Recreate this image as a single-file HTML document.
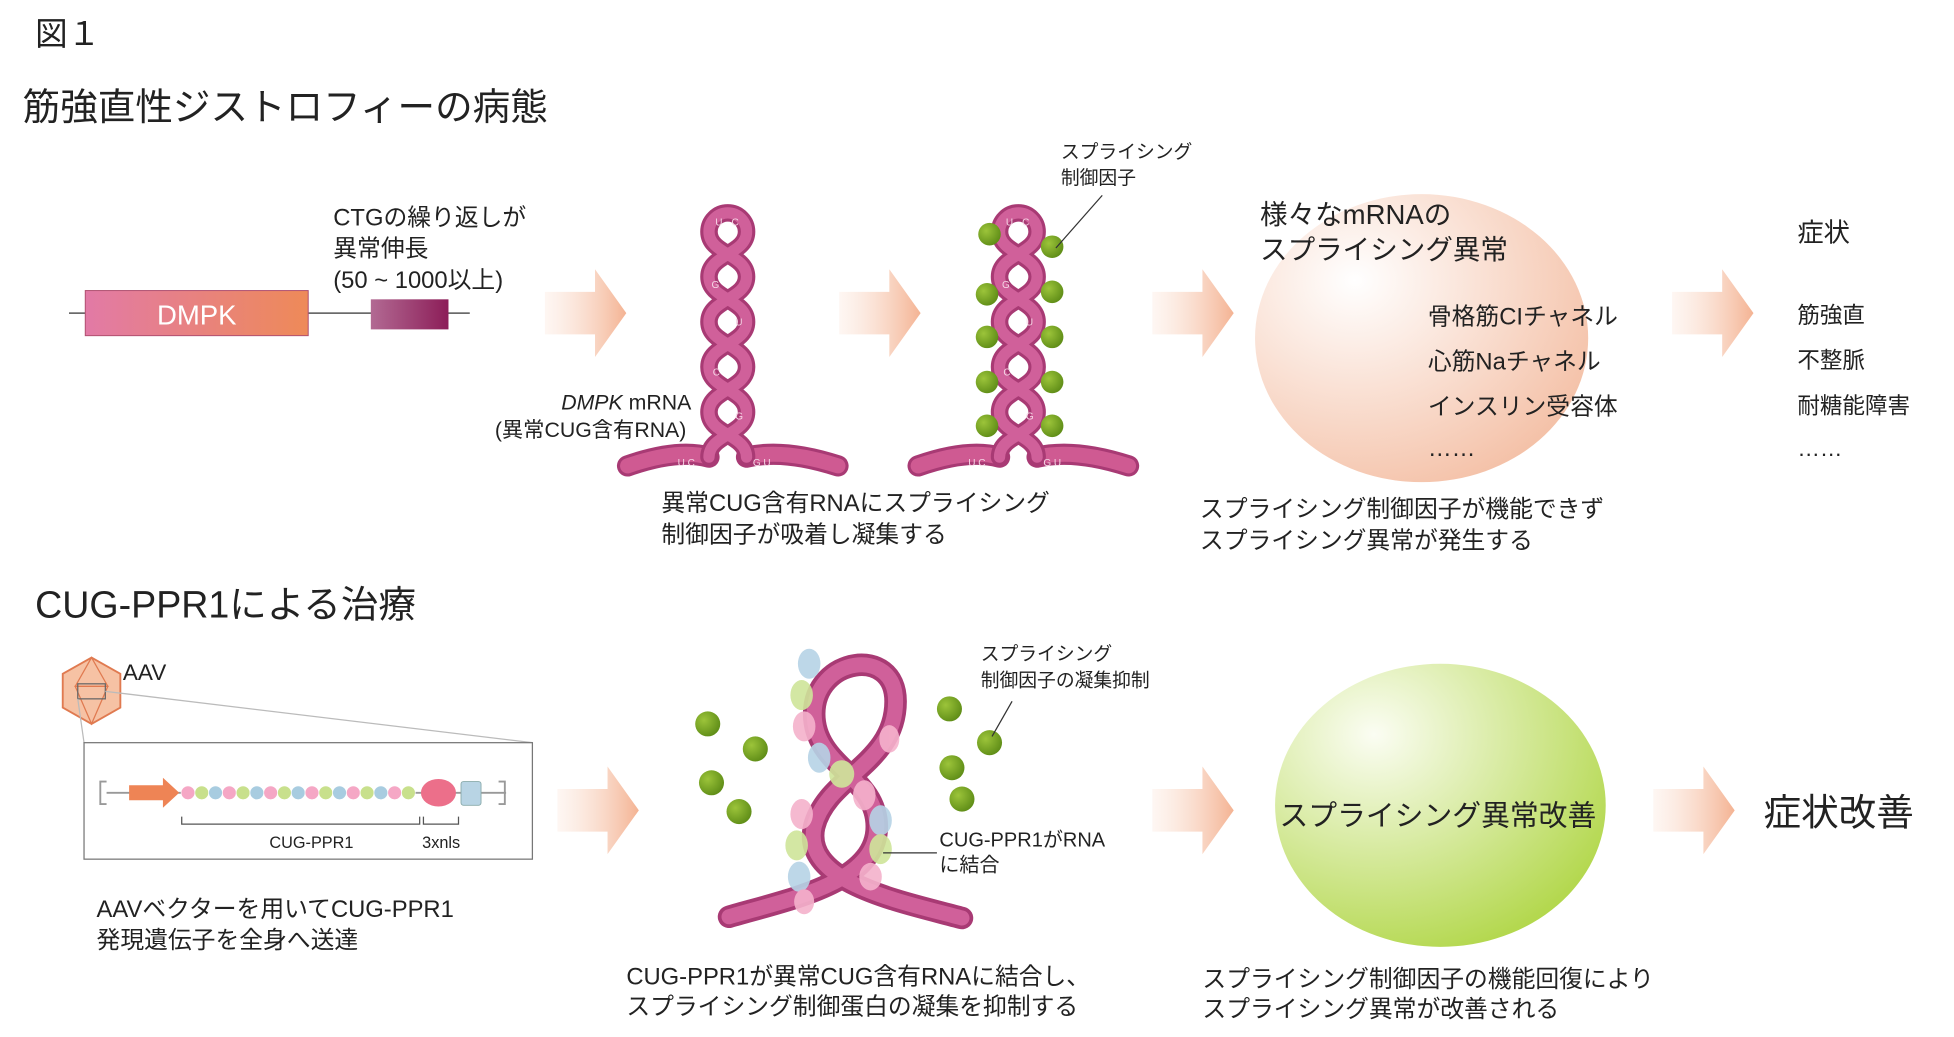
<!DOCTYPE html>
<html><head><meta charset="utf-8"><style>
html,body{margin:0;padding:0;background:#fff;width:1954px;height:1037px;overflow:hidden}
svg{display:block}
text{font-family:"Liberation Sans","Noto Sans CJK JP",sans-serif;fill:#222}
</style></head><body>
<svg width="1954" height="1037" viewBox="0 0 1560 828" xmlns="http://www.w3.org/2000/svg">
<defs>
<linearGradient id="ar" x1="0" x2="1"><stop offset="0" stop-color="#fbe3d6" stop-opacity="0.3"/><stop offset="1" stop-color="#f4b393"/></linearGradient>
<linearGradient id="dm" x1="0" x2="1"><stop offset="0" stop-color="#e27aa6"/><stop offset="1" stop-color="#ee8a58"/></linearGradient>
<linearGradient id="dm2" x1="0" x2="1"><stop offset="0" stop-color="#b26a93"/><stop offset="1" stop-color="#8c1d58"/></linearGradient>
<radialGradient id="pe" cx="0.3" cy="0.3" r="0.8"><stop offset="0" stop-color="#fff"/><stop offset="1" stop-color="#f4c0a6"/></radialGradient>
<radialGradient id="gr" cx="0.3" cy="0.25" r="0.85"><stop offset="0" stop-color="#fbfdf3"/><stop offset="1" stop-color="#b0d646"/></radialGradient>
<radialGradient id="gd" cx="0.35" cy="0.35" r="0.7"><stop offset="0" stop-color="#9cc43a"/><stop offset="1" stop-color="#5f8d17"/></radialGradient>
<g id="arrow"><polygon points="0,-17 40,-17 40,-35 65,0 40,35 40,17 0,17" fill="url(#ar)"/></g>
<g id="hp" fill="none" stroke-linecap="round">
<path d="M-80 372 Q-40 358 -15 365 M15 365 Q45 358 88 372" stroke="#a83a74" stroke-width="17"/>
<path d="M-80 372 Q-40 358 -15 365 M15 365 Q45 358 88 372" stroke="#cf5a92" stroke-width="12"/>
<path d="M-15 365 C-15 347 15 347 15 329 S-15 311 -15 293 S15 275 15 257 S-15 239 -15 221 S15 203 15 185 A15 15 0 0 0 -15 185 C-15 203 15 203 15 221 S-15 239 -15 257 S15 275 15 293 S-15 311 -15 329 S15 347 15 365" stroke="#a83a74" stroke-width="14"/>
<path d="M-15 365 C-15 347 15 347 15 329 S-15 311 -15 293 S15 275 15 257 S-15 239 -15 221 S15 203 15 185 A15 15 0 0 0 -15 185 C-15 203 15 203 15 221 S-15 239 -15 257 S15 275 15 293 S-15 311 -15 329 S15 347 15 365" stroke="#d0609a" stroke-width="9"/>
<g font-size="8" fill="#f6d6e6" stroke="none"><text x="-10" y="180" style="fill:#f6d6e6">U</text><text x="3" y="180" style="fill:#f6d6e6">C</text><text x="-13" y="230" style="fill:#f6d6e6">G</text><text x="6" y="260" style="fill:#f6d6e6">U</text><text x="-12" y="300" style="fill:#f6d6e6">C</text><text x="6" y="335" style="fill:#f6d6e6">G</text><text x="-40" y="372" style="fill:#f6d6e6">U C</text><text x="20" y="372" style="fill:#f6d6e6">G U</text></g>
</g>
</defs>

<text x="28" y="36" font-size="26">図１</text>
<text x="18" y="96" font-size="30">筋強直性ジストロフィーの病態</text>

<line x1="55" y1="250" x2="375" y2="250" stroke="#555" stroke-width="1.2"/>
<rect x="68" y="232" width="178" height="36" fill="url(#dm)" stroke="#b05070" stroke-width="0.8"/>
<text x="157" y="259" font-size="22" text-anchor="middle" style="fill:#fff">DMPK</text>
<rect x="296" y="239" width="62" height="24" fill="url(#dm2)"/>
<text font-size="19"><tspan x="266" y="180">CTGの繰り返しが</tspan><tspan x="266" y="205">異常伸長</tspan><tspan x="266" y="230">(50 ~ 1000以上)</tspan></text>

<use href="#arrow" x="435" y="250"/>
<use href="#arrow" x="670" y="250"/>
<use href="#arrow" x="920" y="250"/>
<use href="#arrow" x="1335" y="250"/>

<use href="#hp" x="581" y="0"/>
<use href="#hp" x="813" y="0"/>
<g fill="url(#gd)">
<circle cx="790" cy="187" r="9"/><circle cx="840" cy="197" r="9"/>
<circle cx="788" cy="235" r="9"/><circle cx="840" cy="233" r="9"/>
<circle cx="788" cy="269" r="9"/><circle cx="840" cy="269" r="9"/>
<circle cx="788" cy="305" r="9"/><circle cx="840" cy="305" r="9"/>
<circle cx="788" cy="340" r="9"/><circle cx="840" cy="340" r="9"/>
</g>
<text font-size="15"><tspan x="847" y="126">スプライシング</tspan><tspan x="847" y="147">制御因子</tspan></text>
<line x1="880" y1="156" x2="843" y2="198" stroke="#333" stroke-width="1"/>
<text font-size="17" x="448" y="327"><tspan font-style="italic">DMPK</tspan> mRNA</text>
<text font-size="17" x="395" y="349">(異常CUG含有RNA)</text>
<text font-size="19"><tspan x="528" y="408">異常CUG含有RNAにスプライシング</tspan><tspan x="528" y="433">制御因子が吸着し凝集する</tspan></text>

<ellipse cx="1135" cy="270" rx="133" ry="115" fill="url(#pe)"/>
<text font-size="22"><tspan x="1006" y="179">様々なmRNAの</tspan><tspan x="1006" y="207">スプライシング異常</tspan></text>
<text font-size="19"><tspan x="1140" y="259">骨格筋CIチャネル</tspan><tspan x="1140" y="295">心筋Naチャネル</tspan><tspan x="1140" y="331">インスリン受容体</tspan><tspan x="1140" y="364">……</tspan></text>
<text font-size="19"><tspan x="958" y="413">スプライシング制御因子が機能できず</tspan><tspan x="958" y="438">スプライシング異常が発生する</tspan></text>
<text font-size="21" x="1435" y="193">症状</text>
<text font-size="18"><tspan x="1435" y="258">筋強直</tspan><tspan x="1435" y="294">不整脈</tspan><tspan x="1435" y="330">耐糖能障害</tspan><tspan x="1435" y="364">……</tspan></text>

<text x="28" y="493" font-size="30">CUG-PPR1による治療</text>

<polygon points="73,525 96,538 96,565 73,578 50,565 50,538" fill="#f6c2a4" stroke="#e07a50" stroke-width="1.5"/>
<polygon points="73,525 86,548 60,548" fill="none" stroke="#e07a50"/>
<polygon points="60,548 86,548 73,578" fill="none" stroke="#e07a50"/>
<rect x="62" y="546" width="22" height="12" fill="none" stroke="#666" stroke-width="1"/>
<text x="98" y="543" font-size="18">AAV</text>
<line x1="84" y1="552" x2="425" y2="593" stroke="#bbb" stroke-width="1"/>
<line x1="62" y1="558" x2="67" y2="593" stroke="#bbb" stroke-width="1"/>
<rect x="67" y="593" width="358" height="93" fill="#fff" stroke="#777" stroke-width="1"/>
<line x1="85" y1="633" x2="404" y2="633" stroke="#999" stroke-width="1.5"/>
<path d="M85 624 h-5 v18 h5 M398 624 h5 v18 h-5" fill="none" stroke="#999" stroke-width="1.5"/>
<polygon points="103,627 130,627 130,621 143,633 130,645 130,639 103,639" fill="#ee8455"/>
<g stroke="#fff" stroke-width="0.5">
<circle cx="150" cy="633" r="5.5" fill="#f5a7c5"/><circle cx="161" cy="633" r="5.5" fill="#c8e08c"/><circle cx="172" cy="633" r="5.5" fill="#a8cce0"/><circle cx="183" cy="633" r="5.5" fill="#f5a7c5"/><circle cx="194" cy="633" r="5.5" fill="#c8e08c"/><circle cx="205" cy="633" r="5.5" fill="#a8cce0"/><circle cx="216" cy="633" r="5.5" fill="#f5a7c5"/><circle cx="227" cy="633" r="5.5" fill="#c8e08c"/><circle cx="238" cy="633" r="5.5" fill="#a8cce0"/><circle cx="249" cy="633" r="5.5" fill="#f5a7c5"/><circle cx="260" cy="633" r="5.5" fill="#c8e08c"/><circle cx="271" cy="633" r="5.5" fill="#a8cce0"/><circle cx="282" cy="633" r="5.5" fill="#f5a7c5"/><circle cx="293" cy="633" r="5.5" fill="#c8e08c"/><circle cx="304" cy="633" r="5.5" fill="#a8cce0"/><circle cx="315" cy="633" r="5.5" fill="#f5a7c5"/><circle cx="326" cy="633" r="5.5" fill="#c8e08c"/>
</g>
<ellipse cx="350" cy="633" rx="14" ry="11" fill="#ec6f8a"/>
<rect x="368" y="624" width="16" height="19" rx="2" fill="#b8d4e4" stroke="#8aa" stroke-width="0.7"/>
<path d="M145 652 v6 h190 v-6 M338 652 v6 h28 v-6" fill="none" stroke="#555" stroke-width="1"/>
<text x="215" y="677" font-size="13">CUG-PPR1</text>
<text x="337" y="677" font-size="13">3xnls</text>
<text font-size="19"><tspan x="77" y="732">AAVベクターを用いてCUG-PPR1</tspan><tspan x="77" y="757">発現遺伝子を全身へ送達</tspan></text>

<use href="#arrow" x="445" y="647"/>
<use href="#arrow" x="920" y="647"/>
<use href="#arrow" x="1320" y="647"/>

<g fill="none" stroke-linecap="round">
<path d="M582 732 C630 718 700 705 700 660 C700 620 650 612 650 570 C650 525 715 515 715 560 C715 610 660 620 650 660 C640 705 720 720 768 733" stroke="#a83a74" stroke-width="18"/>
<path d="M582 732 C630 718 700 705 700 660 C700 620 650 612 650 570 C650 525 715 515 715 560 C715 610 660 620 650 660 C640 705 720 720 768 733" stroke="#d0609a" stroke-width="12"/>
</g>
<g opacity="0.9">
<ellipse cx="646" cy="530" rx="9" ry="12" fill="#b6d3e6"/><ellipse cx="640" cy="555" rx="9" ry="12" fill="#cfe59a"/><ellipse cx="642" cy="580" rx="9" ry="12" fill="#f5b2cc"/><ellipse cx="654" cy="605" rx="9" ry="12" fill="#b6d3e6"/><ellipse cx="672" cy="618" rx="10" ry="11" fill="#cfe59a"/><ellipse cx="690" cy="635" rx="9" ry="12" fill="#f5b2cc"/><ellipse cx="703" cy="655" rx="9" ry="12" fill="#b6d3e6"/><ellipse cx="703" cy="678" rx="9" ry="12" fill="#cfe59a"/><ellipse cx="695" cy="700" rx="9" ry="11" fill="#f5b2cc"/>
<ellipse cx="640" cy="650" rx="9" ry="12" fill="#f5b2cc"/><ellipse cx="636" cy="675" rx="9" ry="12" fill="#cfe59a"/><ellipse cx="638" cy="700" rx="9" ry="12" fill="#b6d3e6"/><ellipse cx="642" cy="720" rx="8" ry="10" fill="#f5b2cc"/><ellipse cx="710" cy="590" rx="8" ry="11" fill="#f5b2cc"/>
</g>
<g fill="url(#gd)">
<circle cx="565" cy="578" r="10"/><circle cx="603" cy="598" r="10"/><circle cx="568" cy="625" r="10"/><circle cx="590" cy="648" r="10"/>
<circle cx="758" cy="566" r="10"/><circle cx="790" cy="593" r="10"/><circle cx="760" cy="613" r="10"/><circle cx="768" cy="638" r="10"/>
</g>
<text font-size="15"><tspan x="783" y="527">スプライシング</tspan><tspan x="783" y="548">制御因子の凝集抑制</tspan></text>
<line x1="808" y1="560" x2="792" y2="588" stroke="#333" stroke-width="1"/>
<text font-size="16"><tspan x="750" y="676">CUG-PPR1がRNA</tspan><tspan x="750" y="696">に結合</tspan></text>
<line x1="705" y1="681" x2="748" y2="681" stroke="#333" stroke-width="1"/>
<text font-size="19"><tspan x="500" y="786">CUG-PPR1が異常CUG含有RNAに結合し、</tspan><tspan x="500" y="810">スプライシング制御蛋白の凝集を抑制する</tspan></text>

<ellipse cx="1150" cy="643" rx="132" ry="113" fill="url(#gr)"/>
<text x="1148" y="659" font-size="23" text-anchor="middle">スプライシング異常改善</text>
<text x="1408" y="659" font-size="30">症状改善</text>
<text font-size="19"><tspan x="960" y="788">スプライシング制御因子の機能回復により</tspan><tspan x="960" y="812">スプライシング異常が改善される</tspan></text>
</svg>
</body></html>
